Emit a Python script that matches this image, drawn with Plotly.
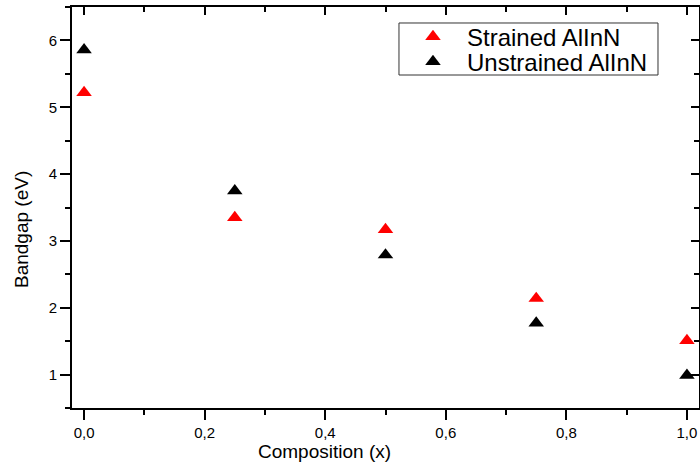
import plotly.graph_objects as go

# Bandgap vs. Al composition for AlInN
composition = [0.0, 0.25, 0.5, 0.75, 1.0]
strained_gap = [5.22, 3.35, 3.17, 2.14, 1.51]
unstrained_gap = [5.86, 3.75, 2.79, 1.77, 0.99]
series_names = ["Strained AlInN", "Unstrained AlInN"]
x_title = "Composition (x)"
y_title = "Bandgap (eV)"

FONT = "Arial, Liberation Sans, sans-serif"
x_range = [-0.02, 1.02]
y_range = [0.5, 6.5]

fig = go.Figure()
fig.add_trace(go.Scatter(
    x=composition, y=strained_gap, mode="markers", name=series_names[0],
    legend="legend",
    marker=dict(symbol="triangle-up", size=13.5, color="#ff0000",
                line=dict(width=0)),
))
fig.add_trace(go.Scatter(
    x=composition, y=unstrained_gap, mode="markers", name=series_names[1],
    legend="legend2",
    marker=dict(symbol="triangle-up", size=13.5, color="#000000",
                line=dict(width=0)),
))
# empty trace that carries the mirrored top/right frame axes
fig.add_trace(go.Scatter(x=[None], y=[None], xaxis="x2", yaxis="y2",
                         showlegend=False, hoverinfo="skip"))

axis_line = dict(showline=True, linecolor="black", linewidth=2,
                 showgrid=False, zeroline=False)

legend_style = dict(
    x=0.5215, xanchor="left", yanchor="middle",
    bgcolor="rgba(0,0,0,0)", borderwidth=0,
    font=dict(family=FONT, size=24, color="black"),
    itemwidth=58,
)

fig.update_layout(
    width=700, height=468,
    margin=dict(l=72, r=1, t=7, b=60),
    paper_bgcolor="white", plot_bgcolor="white",
    separators=",.",
    font=dict(family=FONT, color="black"),
    showlegend=True,
    legend=dict(**legend_style, y=0.9252),
    legend2=dict(**legend_style, y=0.8628),
    # frame around both legend rows
    shapes=[dict(type="rect", xref="paper", yref="paper",
                 x0=0.5215, x1=0.9346, y0=0.8304, y1=0.9601,
                 line=dict(color="#333333", width=1),
                 fillcolor="white", layer="below")],
    annotations=[
        dict(text=x_title, xref="paper", yref="paper", x=0.4035, y=-0.1097,
             xanchor="center", yanchor="middle", showarrow=False,
             font=dict(family=FONT, size=19, color="black")),
        dict(text=y_title, xref="paper", yref="paper", x=-0.0797, y=0.4439,
             xanchor="center", yanchor="middle", showarrow=False,
             textangle=-90, font=dict(family=FONT, size=19, color="black")),
    ],
    xaxis=dict(
        **axis_line, range=x_range, tickmode="linear", tick0=0, dtick=0.2,
        tickformat=".1f", ticks="outside", ticklen=10, tickwidth=2,
        tickcolor="black", tickfont=dict(size=15, family=FONT),
        minor=dict(ticks="outside", ticklen=5, tickwidth=2,
                   tickcolor="black", dtick=0.1),
    ),
    yaxis=dict(
        **axis_line, range=y_range, tickmode="linear", tick0=1, dtick=1,
        ticks="outside", ticklen=10, tickwidth=2, tickcolor="black",
        tickfont=dict(size=15, family=FONT),
        minor=dict(ticks="outside", ticklen=5, tickwidth=2,
                   tickcolor="black", dtick=0.5),
    ),
    xaxis2=dict(
        **axis_line, range=x_range, overlaying="x", side="top", anchor="y2",
        tickmode="linear", tick0=0, dtick=0.2, ticks="inside", ticklen=8,
        tickwidth=2, tickcolor="black", showticklabels=False,
        minor=dict(ticks="inside", ticklen=5, tickwidth=2,
                   tickcolor="black", dtick=0.1),
    ),
    yaxis2=dict(
        **axis_line, range=y_range, overlaying="y", side="right", anchor="x2",
        tickmode="linear", tick0=1, dtick=1, ticks="inside", ticklen=8,
        tickwidth=2, tickcolor="black", showticklabels=False,
        minor=dict(ticks="inside", ticklen=5, tickwidth=2,
                   tickcolor="black", dtick=0.5),
    ),
)

fig.write_html("out.html")
